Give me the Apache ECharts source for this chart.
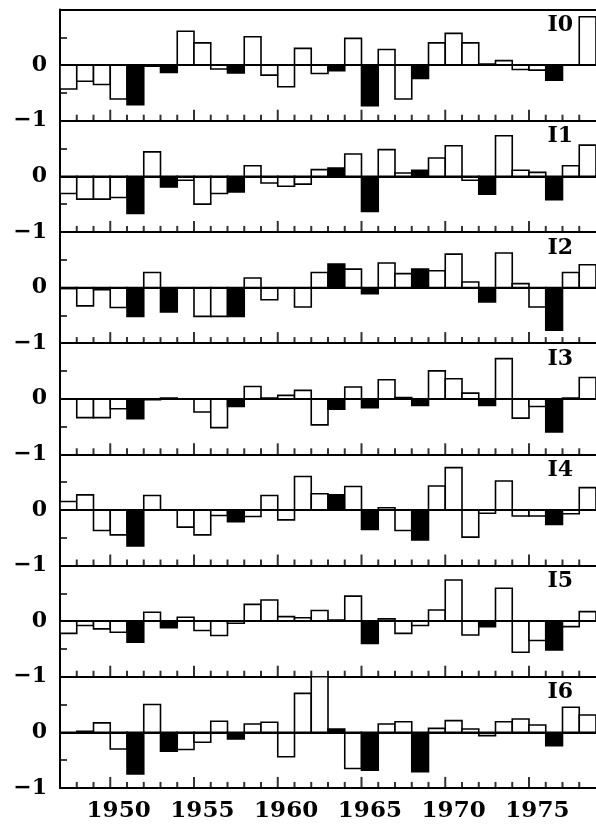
<!DOCTYPE html>
<html>
<head>
<meta charset="utf-8">
<script src="https://cdn.jsdelivr.net/npm/echarts@6/dist/echarts.min.js"></script>
<style>
  html, body { margin: 0; padding: 0; background: #fff; }
  #chart { width: 596px; height: 827px; }
</style>
</head>
<body>
<div id="chart"></div>
<script>
// years on the x axis, one bar per year (bar spans year .. year+1)
const years = [1947, 1948, 1949, 1950, 1951, 1952, 1953, 1954, 1955, 1956, 1957,
  1958, 1959, 1960, 1961, 1962, 1963, 1964, 1965, 1966, 1967, 1968,
  1969, 1970, 1971, 1972, 1973, 1974, 1975, 1976, 1977, 1978];
const majorYears = [1950, 1955, 1960, 1965, 1970, 1975];

const panelLabels = ['I0', 'I1', 'I2', 'I3', 'I4', 'I5', 'I6'];

const i0 = [-0.43, -0.29, -0.35, -0.61, -0.71, -0.02, -0.13, 0.61, 0.40, -0.07, -0.14,
  0.51, -0.18, -0.39, 0.30, -0.15, -0.10, 0.48, -0.73, 0.28, -0.61, -0.24,
  0.40, 0.57, 0.40, 0.02, 0.08, -0.08, -0.09, -0.27, 0.00, 0.87];
const i1 = [-0.31, -0.41, -0.41, -0.38, -0.67, 0.44, -0.19, -0.07, -0.50, -0.31, -0.28,
  0.19, -0.12, -0.18, -0.14, 0.12, 0.15, 0.40, -0.63, 0.48, 0.06, 0.11,
  0.33, 0.55, -0.07, -0.32, 0.73, 0.11, 0.07, -0.42, 0.19, 0.56];
const i2 = [-0.02, -0.33, -0.04, -0.36, -0.52, 0.27, -0.44, 0.00, -0.52, -0.52, -0.52,
  0.17, -0.22, 0.00, -0.35, 0.27, 0.42, 0.33, -0.11, 0.44, 0.25, 0.33,
  0.30, 0.60, 0.10, -0.26, 0.62, 0.07, -0.35, -0.77, 0.27, 0.41];
const i3 = [0.00, -0.34, -0.34, -0.18, -0.36, -0.02, 0.01, 0.00, -0.24, -0.52, -0.14,
  0.22, 0.01, 0.06, 0.15, -0.47, -0.19, 0.21, -0.16, 0.34, 0.02, -0.12,
  0.50, 0.36, 0.10, -0.12, 0.72, -0.35, -0.14, -0.60, 0.01, 0.38];
const i4 = [0.15, 0.27, -0.37, -0.45, -0.65, 0.26, 0.00, -0.31, -0.45, -0.10, -0.21,
  -0.12, 0.26, -0.18, 0.60, 0.29, 0.27, 0.42, -0.35, 0.04, -0.37, -0.54,
  0.43, 0.76, -0.49, -0.06, 0.52, -0.11, -0.11, -0.26, -0.07, 0.40];
const i5 = [-0.22, -0.08, -0.14, -0.20, -0.38, 0.16, -0.12, 0.07, -0.17, -0.26, -0.04,
  0.30, 0.38, 0.08, 0.06, 0.19, 0.02, 0.45, -0.40, 0.04, -0.22, -0.08,
  0.20, 0.74, -0.25, -0.10, 0.59, -0.56, -0.35, -0.52, -0.10, 0.17];
const i6 = [0.00, 0.02, 0.17, -0.30, -0.75, 0.50, -0.34, -0.31, -0.18, 0.20, -0.12,
  0.15, 0.18, -0.44, 0.70, 1.00, 0.06, -0.65, -0.68, 0.15, 0.19, -0.71,
  0.07, 0.21, 0.06, -0.06, 0.19, 0.24, 0.13, -0.24, 0.45, 0.31];

// years drawn as solid black bars in each panel
const black0 = [1951, 1953, 1957, 1963, 1965, 1968, 1976];
const black1 = [1951, 1953, 1957, 1963, 1965, 1968, 1972, 1976];
const black2 = [1951, 1953, 1957, 1963, 1965, 1968, 1972, 1976];
const black3 = [1951, 1957, 1963, 1965, 1968, 1972, 1976];
const black4 = [1951, 1957, 1963, 1965, 1968, 1976];
const black5 = [1951, 1953, 1965, 1972, 1976];
const black6 = [1951, 1953, 1957, 1963, 1965, 1968, 1976];

const panelValues = [i0, i1, i2, i3, i4, i5, i6];
const panelBlack = [black0, black1, black2, black3, black4, black5, black6];

const font = "'DejaVu Serif', 'Liberation Serif', serif";
const panelTop = 9.5;
const panelH = 111.2;
const lineCol = '#000';

const minorTickYears = years.slice(1).filter(y => !majorYears.includes(y));

const grids = [], xAxes = [], yAxes = [], series = [], titles = [];

panelValues.forEach((vals, i) => {
  const top = panelTop + i * panelH;
  grids.push({ left: 60, top: top, width: 543, height: panelH, show: false });
  xAxes.push({
    type: 'value', gridIndex: i, min: 1947, max: 1979, interval: 1, position: 'bottom',
    axisLine: { show: true, onZero: false, lineStyle: { color: lineCol, width: 2 } },
    axisTick: { show: false },
    axisLabel: i === 6 ? {
      customValues: majorYears.map(y => y + 0.5),
      formatter: v => String(Math.floor(v)),
      color: '#000', fontFamily: font, fontWeight: 'bold', fontSize: 23, margin: 12
    } : { show: false },
    splitLine: { show: false }
  });
  yAxes.push({
    type: 'value', gridIndex: i, min: -1, max: 1, interval: 0.5,
    axisLine: { show: true, onZero: false, lineStyle: { color: lineCol, width: 2 } },
    axisTick: { show: true, inside: true, length: 7, lineStyle: { color: lineCol, width: 1.5 } },
    axisLabel: {
      showMinLabel: true,
      formatter: v => (v === 0 ? '0' : (v === -1 ? '\u22121' : '')),
      color: '#000', fontFamily: font, fontWeight: 'bold', fontSize: 22, margin: 13
    },
    splitLine: { show: false }
  });
  // one bar per year from 0 to the value
  series.push({
    type: 'custom', xAxisIndex: i, yAxisIndex: i,
    animation: false, clip: true,
    data: vals.map((v, k) => [years[k], v, panelBlack[i].includes(years[k]) ? 1 : 0]),
    renderItem: (params, api) => {
      const yr = api.value(0), v = api.value(1), filled = api.value(2);
      const p0 = api.coord([yr, 0]);
      const p1 = api.coord([yr + 1, v]);
      return {
        type: 'rect',
        shape: {
          x: p0[0], y: Math.min(p0[1], p1[1]),
          width: p1[0] - p0[0], height: Math.abs(p1[1] - p0[1])
        },
        style: { fill: filled ? '#000' : '#fff', stroke: lineCol, lineWidth: 1.6 }
      };
    },
    markLine: {
      silent: true, symbol: 'none', animation: false,
      label: { show: false },
      lineStyle: { color: lineCol, width: 2, type: 'solid' },
      data: [{ yAxis: 0 }]
    }
  });
  // yearly ticks on the bottom edge, pointing up into the panel
  series.push({
    type: 'scatter', xAxisIndex: i, yAxisIndex: i,
    animation: false, silent: true, z: 10,
    symbol: 'rect', symbolSize: [2, 6], symbolOffset: [0, -3],
    itemStyle: { color: lineCol },
    data: minorTickYears.map(y => [y, -1])
  });
  series.push({
    type: 'scatter', xAxisIndex: i, yAxisIndex: i,
    animation: false, silent: true, z: 10,
    symbol: 'rect', symbolSize: [2, 11], symbolOffset: [0, -5.5],
    itemStyle: { color: lineCol },
    data: majorYears.map(y => [y, -1])
  });
  titles.push({
    text: panelLabels[i], right: 23, top: top + 5, padding: 0,
    textStyle: { fontFamily: font, fontWeight: 'bold', fontSize: 22, color: '#000' }
  });
});

// top frame line of the first panel
xAxes.push({
  type: 'value', gridIndex: 0, min: 1947, max: 1979, position: 'top',
  axisLine: { show: true, onZero: false, lineStyle: { color: lineCol, width: 2 } },
  axisTick: { show: false }, axisLabel: { show: false }, splitLine: { show: false }
});

const chart = echarts.init(document.getElementById('chart'));
chart.setOption({
  backgroundColor: '#fff',
  animation: false,
  title: titles,
  grid: grids,
  xAxis: xAxes,
  yAxis: yAxes,
  series: series
});
</script>
</body>
</html>
